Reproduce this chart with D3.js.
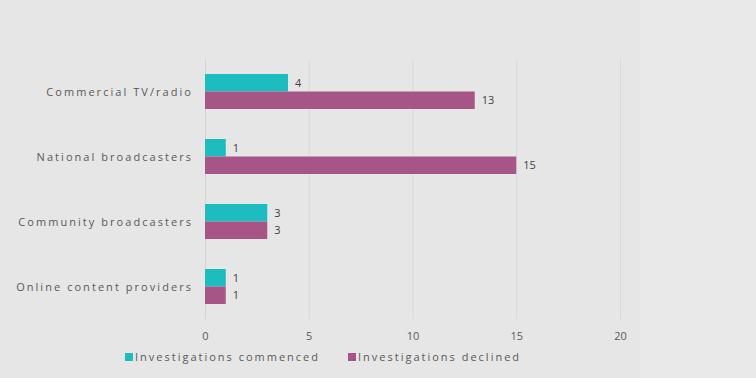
<!DOCTYPE html>
<html>
<head>
<meta charset="utf-8">
<script src="https://cdn.jsdelivr.net/npm/d3@7"></script>
<style>
  html, body { margin: 0; padding: 0; background: #e9e9e9; }
  svg { display: block; font-family: "Open Sans", "DejaVu Sans", sans-serif; }
</style>
</head>
<body>
<div id="chart"></div>
<script>
const categories = ['Commercial TV/radio', 'National broadcasters', 'Community broadcasters', 'Online content providers'];
const commenced = [4, 1, 3, 1];
const declined = [13, 15, 3, 1];
const seriesNames = ['Investigations commenced', 'Investigations declined'];
const xTicks = [0, 5, 10, 15, 20];

const width = 756;
const height = 378;
const colors = ['#1dbcbe', '#a75487'];

const svg = d3.select('#chart')
  .append('svg')
  .attr('width', width)
  .attr('height', height);

// chart area background (slightly darker than page)
svg.append('rect')
  .attr('x', 0).attr('y', 0)
  .attr('width', 640).attr('height', height)
  .attr('fill', '#e6e6e6');

const x = d3.scaleLinear().domain([0, 20]).range([205, 620]);
const y = d3.scaleBand().domain(categories).range([59, 319]);

// gridlines
svg.append('g')
  .selectAll('line')
  .data(xTicks)
  .enter()
  .append('line')
  .attr('x1', d => x(d) + 0.5)
  .attr('x2', d => x(d) + 0.5)
  .attr('y1', 59)
  .attr('y2', 319)
  .attr('stroke', d => d === 0 ? '#d4d4d4' : '#d9d9d9')
  .attr('stroke-width', 1);

const data = categories.map((c, i) => ({ cat: c, vals: [commenced[i], declined[i]] }));
const barH = 17.5;

const groups = svg.selectAll('.cat')
  .data(data)
  .enter()
  .append('g')
  .attr('class', 'cat');

groups.each(function (d) {
  const g = d3.select(this);
  const mid = y(d.cat) + y.bandwidth() / 2;
  d.vals.forEach((v, j) => {
    const top = mid - barH + j * barH;
    g.append('rect')
      .attr('x', x(0))
      .attr('y', top)
      .attr('width', x(v) - x(0))
      .attr('height', barH)
      .attr('fill', colors[j]);
    g.append('text')
      .attr('x', x(v) + 7)
      .attr('y', top + barH / 2 + 4)
      .attr('font-size', 11)
      .attr('fill', '#404040')
      .text(v);
  });
  g.append('text')
    .attr('x', 193)
    .attr('y', mid + 4)
    .attr('text-anchor', 'end')
    .attr('font-size', 11)
    .attr('letter-spacing', 2.05)
    .attr('fill', '#595959')
    .text(d.cat);
});

// x axis tick labels
const xAxis = d3.axisBottom(x).tickValues(xTicks).tickSize(0).tickPadding(0);
const axisG = svg.append('g')
  .attr('transform', 'translate(0,332)')
  .call(xAxis);
axisG.select('.domain').remove();
axisG.selectAll('text')
  .attr('font-size', 11)
  .attr('font-family', '"Open Sans", "DejaVu Sans", sans-serif')
  .attr('fill', '#595959');

// legend
const legendX = [125, 348];
const legend = svg.selectAll('.legend')
  .data(seriesNames)
  .enter()
  .append('g')
  .attr('class', 'legend')
  .attr('transform', (d, i) => `translate(${legendX[i]},353)`);

legend.append('rect')
  .attr('width', 8)
  .attr('height', 8)
  .attr('fill', (d, i) => colors[i]);

legend.append('text')
  .attr('x', 10)
  .attr('y', 8)
  .attr('font-size', 11)
  .attr('letter-spacing', 2.0)
  .attr('fill', '#595959')
  .text(d => d);
</script>
</body>
</html>
